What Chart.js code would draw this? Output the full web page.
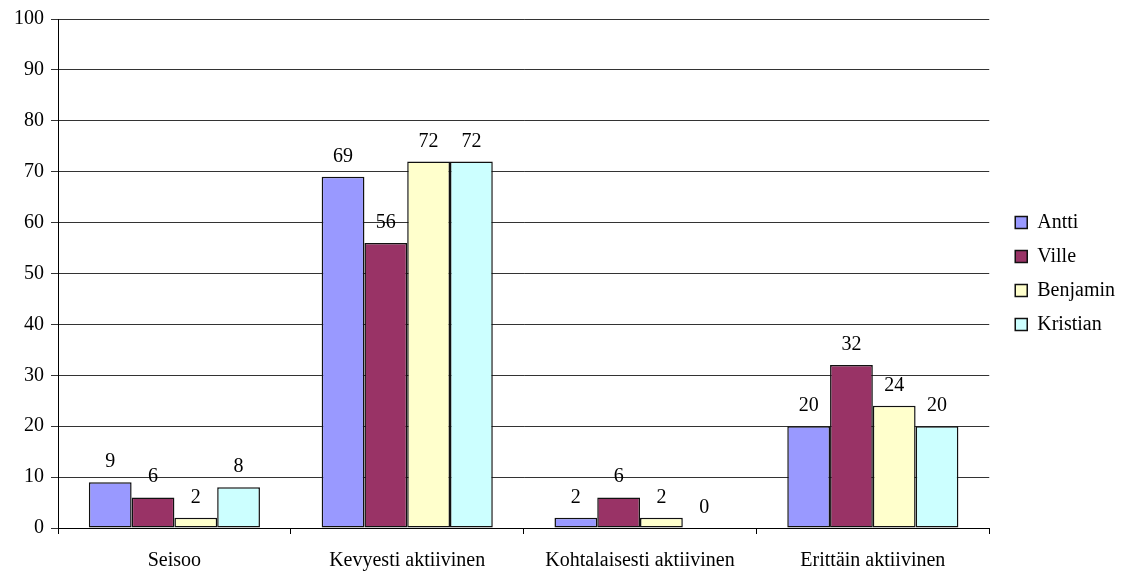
<!DOCTYPE html>
<html>
<head>
<meta charset="utf-8">
<script src="https://cdn.jsdelivr.net/npm/chart.js@4"></script>
<style>
  html, body { margin: 0; padding: 0; background: #fff; }
  #wrap { width: 1125px; height: 572px; }
</style>
</head>
<body>
<div id="wrap"><canvas id="c" width="1125" height="572"></canvas></div>
<script>
// Activity categories and share (%) per person
const categories = ['Seisoo', 'Kevyesti aktiivinen', 'Kohtalaisesti aktiivinen', 'Erittäin aktiivinen'];
const antti    = [9, 69, 2, 20];
const ville    = [6, 56, 6, 32];
const benjamin = [2, 72, 2, 24];
const kristian = [8, 72, 0, 20];
const yTicks   = [0, 10, 20, 30, 40, 50, 60, 70, 80, 90, 100];

const FONT = 'Liberation Serif, "Times New Roman", serif';
const FS = 20;

// Value labels above each bar
const valueLabels = {
  id: 'valueLabels',
  afterDatasetsDraw(chart) {
    const ctx = chart.ctx;
    ctx.save();
    ctx.font = FS + 'px ' + FONT;
    ctx.fillStyle = '#000';
    ctx.textAlign = 'center';
    ctx.textBaseline = 'alphabetic';
    chart.data.datasets.forEach((ds, i) => {
      chart.getDatasetMeta(i).data.forEach((bar, j) => {
        ctx.fillText(String(ds.data[j]), bar.x, bar.y - 15);
      });
    });
    ctx.restore();
  }
};

function series(label, data, color) {
  return {
    label, data,
    backgroundColor: color,
    borderColor: '#111',
    borderWidth: 1.5,
    borderSkipped: false,
    categoryPercentage: 0.735,
    barPercentage: 1.0
  };
}

new Chart(document.getElementById('c'), {
  type: 'bar',
  data: {
    labels: categories,
    datasets: [
      series('Antti', antti, '#9999FF'),
      series('Ville', ville, '#993366'),
      series('Benjamin', benjamin, '#FFFFCC'),
      series('Kristian', kristian, '#CCFFFF')
    ]
  },
  options: {
    responsive: false,
    animation: false,
    devicePixelRatio: 1,
    layout: { padding: { top: 18, left: 8, right: 0, bottom: 0 } },
    plugins: {
      tooltip: { enabled: false },
      legend: {
        position: 'right',
        fullSize: false,
        labels: {
          font: { family: FONT, size: FS },
          color: '#000',
          boxWidth: 12,
          boxHeight: 12,
          padding: 14
        }
      }
    },
    scales: {
      x: {
        offset: true,
        grid: {
          offset: true,
          drawOnChartArea: false,
          drawTicks: true,
          tickLength: 6,
          color: '#000'
        },
        border: { color: '#000', width: 1 },
        ticks: {
          font: { family: FONT, size: FS },
          color: '#000',
          padding: 15,
          maxRotation: 0
        },
        afterFit(scale) { scale.height = 44; }
      },
      y: {
        min: 0,
        max: 100,
        afterBuildTicks(scale) { scale.ticks = yTicks.map(v => ({ value: v })); },
        grid: {
          color: '#333',
          lineWidth: 1,
          drawTicks: true,
          tickLength: 7
        },
        border: { color: '#000', width: 1 },
        ticks: {
          font: { family: FONT, size: FS },
          color: '#000',
          padding: 7
        },
        afterFit(scale) { scale.width = 50; }
      },
      // empty gutter between the plot and the legend
      gap: {
        type: 'linear',
        position: 'right',
        display: true,
        grid: { display: false, drawTicks: false },
        border: { display: false },
        ticks: { display: false },
        afterFit(scale) { scale.width = 12; }
      }
    }
  },
  plugins: [valueLabels]
});
</script>
</body>
</html>
